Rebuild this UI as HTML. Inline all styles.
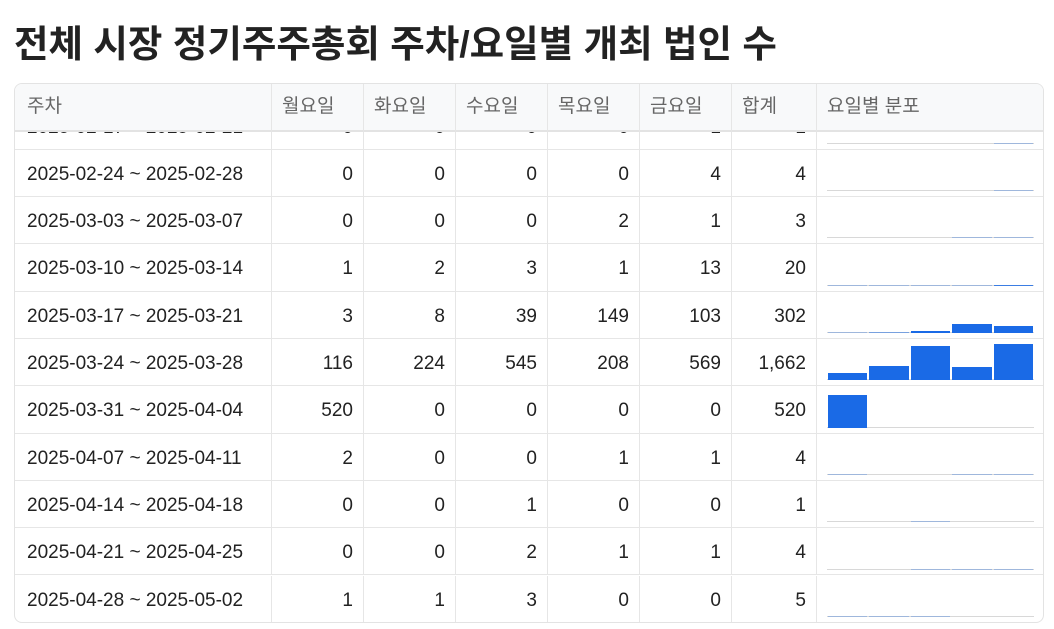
<!DOCTYPE html>
<html><head><meta charset="utf-8">
<style>
body{margin:0;width:1054px;height:629px;background:#fff;font-family:"Liberation Sans","Noto Sans CJK KR",sans-serif;overflow:hidden;position:relative}
h1{position:absolute;left:14px;top:13px;margin:0;font-size:37.5px;font-weight:bold;color:#222}
#box{position:absolute;left:14px;top:83px;width:1028px;height:538px;border:1px solid #e3e3e3;border-radius:8px;overflow:hidden}
.c{position:absolute;box-sizing:border-box;border-right:1px solid #e6e6e6;border-bottom:1px solid #e6e6e6;font-size:19px;color:#222;line-height:50px;white-space:nowrap}
.h{background:#f8f9fa;color:#666;height:48px;line-height:46px;border-bottom:2px solid #e3e3e3}
.r{text-align:right;padding-right:10px}
.l{padding-left:12px}
.bar{position:absolute;background:#1a6ae6}
.base{position:absolute;height:1px;background:#d8d8d8}
</style></head><body>
<h1>전체 시장 정기주주총회 주차/요일별 개최 법인 수</h1>
<div id="box"></div>
<script>
const weeks=["2025-02-17 ~ 2025-02-21","2025-02-24 ~ 2025-02-28","2025-03-03 ~ 2025-03-07","2025-03-10 ~ 2025-03-14","2025-03-17 ~ 2025-03-21","2025-03-24 ~ 2025-03-28","2025-03-31 ~ 2025-04-04","2025-04-07 ~ 2025-04-11","2025-04-14 ~ 2025-04-18","2025-04-21 ~ 2025-04-25","2025-04-28 ~ 2025-05-02"];
const mon=[0,0,0,1,3,116,520,2,0,0,1];
const tue=[0,0,0,2,8,224,0,0,0,0,1];
const wed=[0,0,0,3,39,545,0,0,1,2,3];
const thu=[0,0,2,1,149,208,0,1,0,1,0];
const fri=[1,4,1,13,103,569,0,1,0,1,0];
const headers=["주차","월요일","화요일","수요일","목요일","금요일","합계","요일별 분포"];
const colX=[0,257,349,441,533,625,717,802,1029];
const box=document.getElementById('box');
const HEAD=48,RH=47.3,OFF=-29.5;
const maxV=Math.max(...mon,...tue,...wed,...thu,...fri);
const barMax=36;
function cell(x,y,w,h,cls,txt){const d=document.createElement('div');d.className='c '+cls;d.style.left=x+'px';d.style.top=y+'px';d.style.width=w+'px';d.style.height=h+'px';d.textContent=txt;box.appendChild(d);return d;}
weeks.forEach((wk,i)=>{
  const y=HEAD+OFF+i*RH;
  const vals=[mon[i],tue[i],wed[i],thu[i],fri[i]];
  const tot=vals.reduce((a,b)=>a+b,0);
  const row=[wk,...vals.map(String),tot.toLocaleString('en-US'),""];
  row.forEach((t,j)=>{
    const d=cell(colX[j],y,colX[j+1]-colX[j],RH,j==0?'l':(j<7?'r':''),t);
    
    
  });
  const sx=colX[7]+10,sw=207,by=y+RH-7;
  const b=document.createElement('div');b.className='base';b.style.left=sx+'px';b.style.width=sw+'px';b.style.top=by+'px';
  
  
  box.appendChild(b);
  const bw=sw/5;
  vals.forEach((v,k)=>{
    const h=v/maxV*barMax;if(h<=0)return;
    const e=document.createElement('div');e.className='bar';
    e.style.left=(sx+k*bw+1)+'px';e.style.width=(bw-2)+'px';
    e.style.top=(by+1-Math.max(h,1))+'px';e.style.height=Math.max(h,1)+'px';
    if(h<2)e.style.opacity=Math.max(0.3,h);
    
    
    box.appendChild(e);
  });
});
headers.forEach((t,j)=>{
  const d=cell(colX[j],0,colX[j+1]-colX[j],HEAD,'h l',t);
  if(j>0)d.style.paddingLeft='10px';
  
  
});
</script>
</body></html>
